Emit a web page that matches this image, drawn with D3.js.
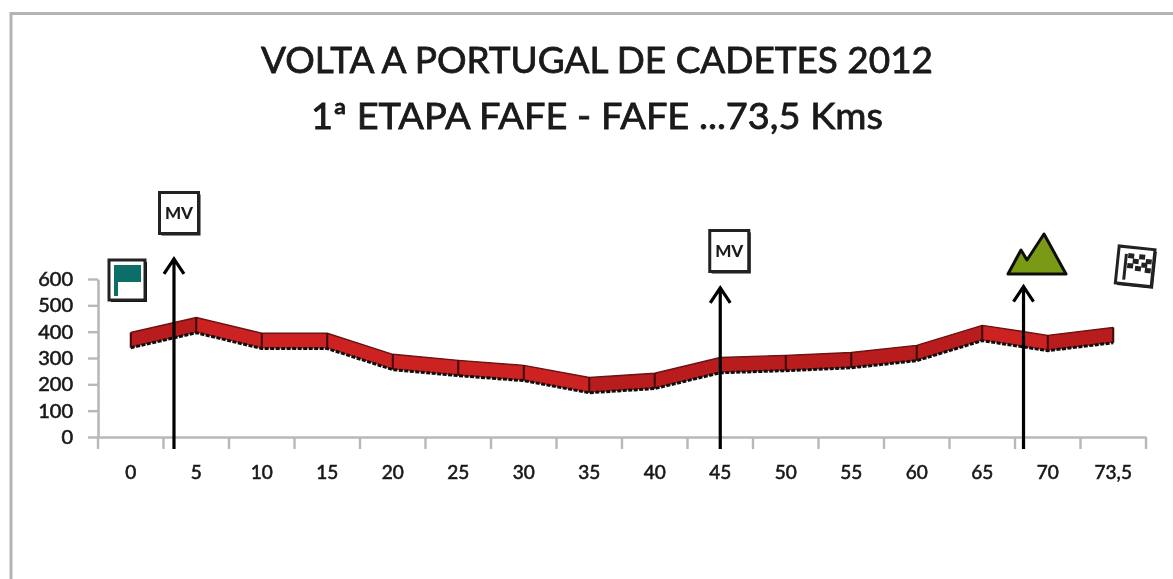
<!DOCTYPE html>
<html><head><meta charset="utf-8"><script src="https://cdn.jsdelivr.net/npm/d3@7"></script>
<style>html,body{margin:0;padding:0;background:#fff}svg{display:block}text{font-family:Lato,"Open Sans",sans-serif;fill:#1a1a1a}</style></head>
<body><svg id="c" width="1173" height="579"></svg>
<script>
const titleLines = ["VOLTA A PORTUGAL DE CADETES 2012", "1ª ETAPA FAFE - FAFE ...73,5  Kms"];
const categories = ["0","5","10","15","20","25","30","35","40","45","50","55","60","65","70","73,5"];
const elevation = [368,425,365,365,285,262,243,197,213,273,281,292,319,395,357,387];
const yTicks = [0,100,200,300,400,500,600];
const markerPositions = [0.66, 9, 13.63];
const markerTops = [680, 570, 575];

const svg = d3.select("#c");
const defs = svg.append("defs");
defs.append("filter").attr("id","soft").attr("x","-5%").attr("y","-5%").attr("width","110%").attr("height","110%")
  .append("feGaussianBlur").attr("stdDeviation",0.75);
const root = svg.append("g").attr("filter","url(#soft)");

// frame
root.append("path").attr("d","M11,579V13.5H1173").attr("fill","none").attr("stroke","#b4b4b4").attr("stroke-width",3);

// title
root.selectAll("text.t").data(titleLines).join("text").attr("class","t")
  .attr("x",597).attr("y",(d,i)=>i?129:73).attr("text-anchor","middle")
  .attr("font-size",36).attr("stroke","#1a1a1a").attr("stroke-width",0.8)
  .attr("textLength",(d,i)=>i?572:672).attr("lengthAdjust","spacingAndGlyphs").text(d=>d);

const band = d3.scaleBand().domain(categories).range([98,1146]);
const idx = i => band(categories[0]) + band.bandwidth()/2 + i*band.step();
const x = d3.scaleLinear().domain([0,categories.length-1]).range([idx(0),idx(categories.length-1)]);
const y = d3.scaleLinear().domain([0,600]).range([437,279]);

// axes
const xAxis = d3.axisBottom(band).tickSizeOuter(0).tickSize(0).tickPadding(29);
const gx = root.append("g").attr("transform","translate(0,437)").call(xAxis);
gx.select(".domain").attr("stroke","#b8b8b8").attr("stroke-width",2.6);
gx.selectAll("text").attr("font-size",19).attr("fill","#1a1a1a").attr("stroke","#1a1a1a").attr("stroke-width",0.6);
gx.selectAll("line.edge").data(d3.range(categories.length+1)).join("line").attr("class","edge")
  .attr("x1",i=>band.range()[0]+i*band.step()).attr("x2",i=>band.range()[0]+i*band.step())
  .attr("y1",0).attr("y2",12).attr("stroke","#b8b8b8").attr("stroke-width",2.4);
const yAxis = d3.axisLeft(y).tickValues(yTicks).tickSize(10).tickSizeOuter(0).tickPadding(15);
const gy = root.append("g").attr("transform","translate(98,0)").call(yAxis);
gy.select(".domain").attr("stroke","#b8b8b8").attr("stroke-width",2.6);
gy.selectAll("line").attr("stroke","#b8b8b8").attr("stroke-width",2.4);
gy.selectAll("text").attr("font-size",20).attr("fill","#1a1a1a").attr("stroke","#1a1a1a").attr("stroke-width",0.6);

// ribbon
const halfBand = 29; // ribbon half thickness in elevation units
const pts = elevation.map((v,i)=>({i,v}));
const ribbon = d3.area().x(d=>x(d.i)).y0(d=>y(d.v-halfBand)).y1(d=>y(d.v+halfBand));
d3.pairs(pts).forEach(([a,b])=>{
  root.append("path").attr("d",ribbon([a,b])).attr("fill",b.v>a.v?"#b81c1e":"#cc2224");
});
root.append("path").attr("d",d3.line().x(d=>x(d.i)).y(d=>y(d.v+halfBand))(pts)).attr("fill","none").attr("stroke","#6a1212").attr("stroke-width",1.4);
root.append("path").attr("d",d3.line().x(d=>x(d.i)).y(d=>y(d.v-halfBand))(pts)).attr("fill","none").attr("stroke","#111").attr("stroke-width",3).attr("stroke-dasharray","4 1.5");
root.selectAll("line.seam").data(pts).join("line").attr("class","seam")
  .attr("x1",d=>x(d.i)).attr("x2",d=>x(d.i)).attr("y1",d=>y(d.v+halfBand)).attr("y2",d=>y(d.v-halfBand))
  .attr("stroke","#3c0c0c").attr("stroke-width",2);

// arrows
const arrowBottom = 449;
markerPositions.forEach((p,k)=>{
  const ax = x(p), top = y(markerTops[k]);
  root.append("path").attr("d",`M${ax},${arrowBottom}V${top}M${ax-10},${top+16}L${ax},${top+1}L${ax+10},${top+16}`)
    .attr("fill","none").attr("stroke","#000").attr("stroke-width",3.2);
});

// icon helper
function box(g,w,h){
  g.append("rect").attr("x",3).attr("y",3).attr("width",w-3).attr("height",h-3).attr("fill","#111");
  g.append("rect").attr("x",1).attr("y",1).attr("width",w-3).attr("height",h-3).attr("fill","#fff").attr("stroke","#222").attr("stroke-width",3);
}
function mv(cx,cy){
  const g=root.append("g").attr("transform",`translate(${cx-21},${cy-22})`);
  box(g,42,44);
  g.append("text").attr("x",20.5).attr("y",27.5).attr("text-anchor","middle").attr("font-size",17).attr("font-weight",900).attr("fill","#111").text("MV");
}
mv(179.5,213.5); mv(x(9)+9.5,251.5);

// start flag
const fg=root.append("g").attr("transform","translate(108,259)");
box(fg,39,43);
fg.append("path").attr("d","M6,6H33V23H10V37H6Z").attr("fill","#0e6e68");

// mountain
root.append("path").attr("d","M1008,274L1021,250L1027,260L1044,234L1066,274Z").attr("fill","#7a9a12").attr("stroke","#111").attr("stroke-width",3).attr("stroke-linejoin","round");

// finish flag
const cg=root.append("g").attr("transform","translate(1116,247) rotate(6 21 21)");
box(cg,39,40);
cg.append("path").attr("d","M9,8V34").attr("stroke","#222").attr("stroke-width",3);
[[11,7],[22,7],[29,11],[16,12],[25,15],[11,17],[19,19],[29,20]].forEach(([a,b])=>{
  cg.append("rect").attr("x",a).attr("y",b).attr("width",6).attr("height",5).attr("fill","#222");
});
</script></body></html>
